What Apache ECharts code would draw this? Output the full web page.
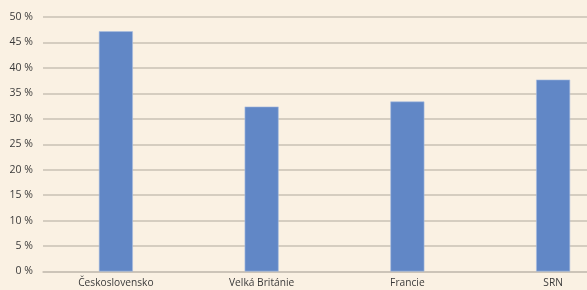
<!DOCTYPE html>
<html><head><meta charset="utf-8">
<script src="https://cdn.jsdelivr.net/npm/echarts@6/dist/echarts.min.js"></script>
<style>html,body{margin:0;padding:0;background:#faf1e3;}#c{width:587px;height:290px;}</style>
</head><body><div id="c"></div>
<script>
const categories = ['Československo', 'Velká Británie', 'Francie', 'SRN'];
const values = [47.2, 32.4, 33.4, 37.7];
const yTicks = { min: 0, max: 50, interval: 5 };

const chart = echarts.init(document.getElementById('c'), null, { renderer: 'canvas' });
chart.setOption({
  backgroundColor: '#faf1e3',
  animation: false,
  grid: { left: 43, top: 17, width: 583, bottom: 18.5, containLabel: false, outerBoundsMode: 'none' },
  xAxis: {
    type: 'category', data: categories,
    axisLine: { show: true, lineStyle: { color: '#c9c1b5', width: 1.5 } },
    axisTick: { show: false },
    axisLabel: { color: '#3a3a3a', fontFamily: 'Open Sans', fontSize: 10.2, margin: 7 }
  },
  yAxis: {
    type: 'value', min: yTicks.min, max: yTicks.max, interval: yTicks.interval,
    axisLine: { show: false }, axisTick: { show: false },
    axisLabel: { color: '#3a3a3a', fontFamily: 'Open Sans', fontSize: 10.5, margin: 10, formatter: v => v + ' %' },
    splitLine: { lineStyle: { color: '#c9c1b5', width: 1.5 } }
  },
  series: [{
    type: 'bar', data: values, barWidth: 34,
    itemStyle: { color: '#6187c6', borderColor: '#a9bde0', borderWidth: 0.6 }
  }]
});
</script></body></html>
